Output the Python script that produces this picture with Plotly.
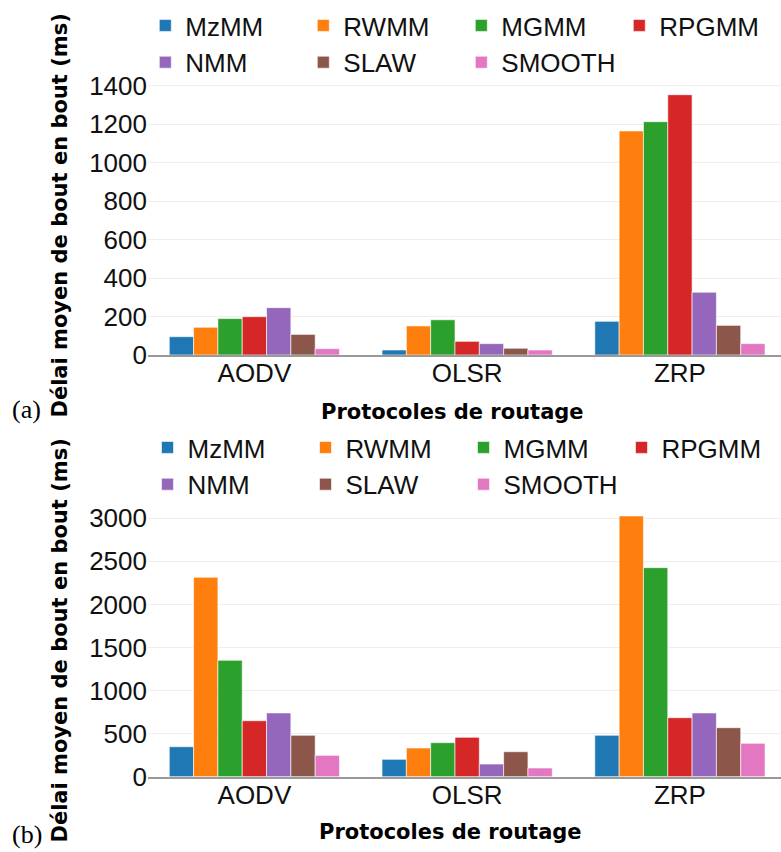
import plotly.graph_objects as go

protocols = ["AODV", "OLSR", "ZRP"]
models = ["MzMM", "RWMM", "MGMM", "RPGMM", "NMM", "SLAW", "SMOOTH"]
colors = ["#1f77b4", "#ff7f0e", "#2ca02c", "#d62728", "#9467bd", "#8c564b", "#e377c2"]

# Panel (a) - end-to-end delay (ms)
mzmm_a = [95, 26, 175]
rwmm_a = [144, 151, 1164]
mgmm_a = [189, 183, 1212]
rpgmm_a = [199, 71, 1352]
nmm_a = [246, 59, 326]
slaw_a = [107, 35, 154]
smooth_a = [33, 26, 59]

# Panel (b) - end-to-end delay (ms)
mzmm_b = [348, 202, 481]
rwmm_b = [2315, 333, 3027]
mgmm_b = [1351, 395, 2427]
rpgmm_b = [650, 457, 685]
nmm_b = [740, 147, 740]
slaw_b = [481, 290, 569]
smooth_b = [248, 101, 388]

yticks_a = [0, 200, 400, 600, 800, 1000, 1200, 1400]
yticks_b = [0, 500, 1000, 1500, 2000, 2500, 3000]

series_a = [mzmm_a, rwmm_a, mgmm_a, rpgmm_a, nmm_a, slaw_a, smooth_a]
series_b = [mzmm_b, rwmm_b, mgmm_b, rpgmm_b, nmm_b, slaw_b, smooth_b]

W, H = 781, 852
L = 148
NCOL = 4


def px(x):
    return x / W


def py(y):
    return (H - y) / H


def legend_id(panel, i):
    k = panel * NCOL + (i % NCOL) + 1
    return "legend" if k == 1 else f"legend{k}"


fig = go.Figure()

for i, (name, col, vals) in enumerate(zip(models, colors, series_a)):
    fig.add_trace(go.Bar(x=protocols, y=vals, name=name, marker_color=col,
                         marker_line=dict(color="rgba(255,255,255,0.6)", width=1),
                         xaxis="x", yaxis="y", legend=legend_id(0, i)))
for i, (name, col, vals) in enumerate(zip(models, colors, series_b)):
    fig.add_trace(go.Bar(x=protocols, y=vals, name=name, marker_color=col,
                         marker_line=dict(color="rgba(255,255,255,0.6)", width=1),
                         xaxis="x2", yaxis="y2", legend=legend_id(1, i)))

tick_font = dict(family="Liberation Sans, Arial, sans-serif", size=26, color="#111")
xcommon = dict(range=[-0.5, 2.475], showline=True, linecolor="#999", linewidth=1.5,
               showgrid=False, zeroline=False, ticks="", tickfont=tick_font,
               automargin=False, ticklabelstandoff=-6)
ycommon = dict(showgrid=True, gridcolor="#eeeeee", gridwidth=1, zeroline=False,
               showline=False, ticks="", tickfont=tick_font, automargin=False)
leg_font = dict(family="Liberation Sans, Arial, sans-serif", size=26, color="#111")

layout = dict(
    template="none",
    width=W, height=H,
    margin=dict(l=0, r=0, t=0, b=0, pad=0),
    plot_bgcolor="white", paper_bgcolor="white",
    barmode="group", bargap=0.2, bargroupgap=0,
    xaxis=dict(domain=[px(L), 1], anchor="y", **xcommon),
    yaxis=dict(domain=[py(355), py(81.65)], range=[0, 1420], tickvals=yticks_a, **ycommon),
    xaxis2=dict(domain=[px(L), 1], anchor="y2", **xcommon),
    yaxis2=dict(domain=[py(776.7), py(502.8)], range=[0, 3180], tickvals=yticks_b, **ycommon),
    showlegend=True,
)

# legend columns: marker centre x, and top y for each panel
marker_x0 = [165.3, 167.5]
legend_top = [2, 424]
col_step = 158
for panel in range(2):
    for c in range(NCOL):
        k = panel * NCOL + c + 1
        key = "legend" if k == 1 else f"legend{k}"
        layout[key] = dict(orientation="v", x=px(marker_x0[panel] + c * col_step - 20),
                           xanchor="left", y=py(legend_top[panel]), yanchor="top",
                           font=leg_font, bgcolor="rgba(0,0,0,0)", borderwidth=0,
                           traceorder="normal", tracegroupgap=0)
fig.update_layout(**layout)

title_font = dict(family="DejaVu Sans, sans-serif", size=21, color="#000")
ann = []
ytitle = "<b>Délai moyen de bout en bout (ms)</b>"
ann.append(dict(text=ytitle, x=px(59), y=py(215.5), xref="paper", yref="paper",
                textangle=-90, showarrow=False, font=title_font, xanchor="center", yanchor="middle"))
ann.append(dict(text=ytitle, x=px(59), y=py(640.5), xref="paper", yref="paper",
                textangle=-90, showarrow=False, font=title_font, xanchor="center", yanchor="middle"))
xtitle = "<b>Protocoles de routage</b>"
ann.append(dict(text=xtitle, x=px(452), y=py(412), xref="paper", yref="paper",
                showarrow=False, font=title_font, xanchor="center", yanchor="middle"))
ann.append(dict(text=xtitle, x=px(450), y=py(832), xref="paper", yref="paper",
                showarrow=False, font=title_font, xanchor="center", yanchor="middle"))
lab_font = dict(family="Liberation Serif, serif", size=26, color="#000")
ann.append(dict(text="(a)", x=px(26), y=py(409), xref="paper", yref="paper",
                showarrow=False, font=lab_font, xanchor="center", yanchor="middle"))
ann.append(dict(text="(b)", x=px(27), y=py(851), xref="paper", yref="paper",
                showarrow=False, font=lab_font, xanchor="center", yanchor="bottom"))
fig.update_layout(annotations=ann)

fig.write_html("out.html")
